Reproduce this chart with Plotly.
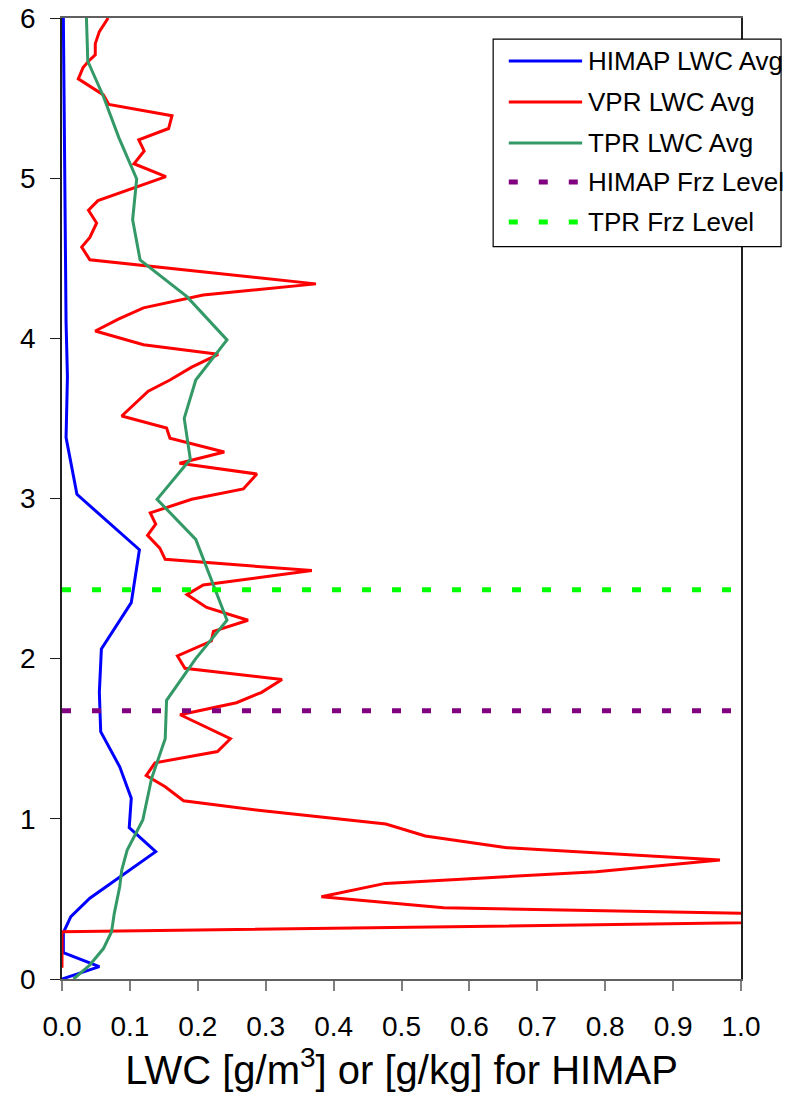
import plotly.graph_objects as go

# ---------------- data ----------------
himap_x = [0.002, 0.003, 0.004, 0.005, 0.006, 0.008, 0.006, 0.022, 0.114, 0.102,
           0.058, 0.055, 0.057, 0.085, 0.102, 0.099, 0.138, 0.041, 0.013, 0.002,
           0.002, 0.055, 0.0]
himap_y = [6.0, 5.5, 5.0, 4.5, 4.1, 3.76, 3.38, 3.026, 2.68, 2.35,
           2.06, 1.79, 1.544, 1.325, 1.128, 0.945, 0.795, 0.504, 0.389, 0.29,
           0.164, 0.077, 0.0]

vpr_x = [0.068, 0.055, 0.049, 0.049, 0.039, 0.031, 0.024, 0.061, 0.069, 0.162,
         0.157, 0.113, 0.121, 0.106, 0.153, 0.053, 0.039, 0.051, 0.041, 0.029,
         0.041, 0.374, 0.208, 0.120, 0.083, 0.049, 0.120, 0.230, 0.191, 0.159,
         0.127, 0.088, 0.154, 0.159, 0.239, 0.173, 0.287, 0.267, 0.191, 0.130,
         0.138, 0.126, 0.144, 0.152, 0.368, 0.208, 0.184, 0.213, 0.274, 0.223,
         0.220, 0.170, 0.181, 0.324, 0.294, 0.257, 0.174, 0.248, 0.229, 0.137,
         0.124, 0.152, 0.179, 0.296, 0.477, 0.535, 0.655, 0.969, 0.787, 0.476,
         0.382, 0.562, 1.44, 0.0, 0.0]
vpr_y = [6.0, 5.915, 5.84, 5.77, 5.73, 5.69, 5.62, 5.52, 5.46, 5.39,
         5.31, 5.24, 5.17, 5.09, 5.01, 4.86, 4.80, 4.72, 4.63, 4.57,
         4.49, 4.34, 4.27, 4.19, 4.12, 4.046, 3.96, 3.90, 3.82, 3.74,
         3.67, 3.515, 3.44, 3.376, 3.29, 3.22, 3.153, 3.06, 2.995, 2.91,
         2.84, 2.77, 2.69, 2.62, 2.55, 2.46, 2.40, 2.32, 2.24, 2.17,
         2.11, 2.017, 1.94, 1.87, 1.79, 1.725, 1.65, 1.50, 1.42, 1.35,
         1.27, 1.20, 1.113, 1.05, 0.968, 0.893, 0.82, 0.743, 0.67, 0.597,
         0.514, 0.445, 0.375, 0.295, 0.07]

tpr_x = [0.036, 0.038, 0.061, 0.084, 0.110, 0.104, 0.115, 0.184, 0.243, 0.197,
         0.180, 0.189, 0.140, 0.197, 0.243, 0.197, 0.154, 0.152, 0.132, 0.119,
         0.096, 0.088, 0.085, 0.077, 0.073, 0.061, 0.041, 0.017]
tpr_y = [6.0, 5.73, 5.51, 5.25, 4.995, 4.74, 4.49, 4.26, 3.99, 3.74,
         3.50, 3.245, 2.995, 2.745, 2.24, 2.0, 1.74, 1.50, 1.253, 0.993,
         0.805, 0.68, 0.576, 0.41, 0.295, 0.19, 0.087, 0.0]

frz_x = [0.0, 1.0]
himap_frz = 1.675
tpr_frz = 2.43

series_names = ["HIMAP LWC Avg", "VPR LWC Avg", "TPR LWC Avg",
                "HIMAP Frz Level", "TPR Frz Level"]
x_ticks = [0.0, 0.1, 0.2, 0.3, 0.4, 0.5, 0.6, 0.7, 0.8, 0.9, 1.0]
x_tick_labels = ["0.0", "0.1", "0.2", "0.3", "0.4", "0.5", "0.6", "0.7", "0.8", "0.9", "1.0"]
y_ticks = [0, 1, 2, 3, 4, 5, 6]
y_tick_labels = ["0", "1", "2", "3", "4", "5", "6"]

# ---------------- styles ----------------
FONT = "Liberation Sans, Arial, sans-serif"
styles = [
    dict(color="#0000FF", width=3, dash="solid"),
    dict(color="#FF0000", width=3, dash="solid"),
    dict(color="#339966", width=3, dash="solid"),
    dict(color="#800080", width=5, dash="9px,21px"),
    dict(color="#00FF00", width=5, dash="9px,21px"),
]

fig = go.Figure()
fig.add_trace(go.Scatter(x=himap_x, y=himap_y, mode="lines", name=series_names[0],
                         line=styles[0], showlegend=False))
fig.add_trace(go.Scatter(x=vpr_x, y=vpr_y, mode="lines", name=series_names[1],
                         line=styles[1], showlegend=False))
fig.add_trace(go.Scatter(x=tpr_x, y=tpr_y, mode="lines", name=series_names[2],
                         line=styles[2], showlegend=False))
fig.add_trace(go.Scatter(x=frz_x, y=[himap_frz, himap_frz], mode="lines", name=series_names[3],
                         line=styles[3], showlegend=False))
fig.add_trace(go.Scatter(x=frz_x, y=[tpr_frz, tpr_frz], mode="lines", name=series_names[4],
                         line=styles[4], showlegend=False))

# ---------------- custom legend (box, line samples, labels) ----------------
shapes = [dict(type="rect", xref="paper", yref="paper", x0=0.635, x1=1.059, y0=0.762, y1=0.978,
               line=dict(color="#000000", width=1.2), fillcolor="white", layer="above")]
annotations = []
row_y = [0.9553, 0.9126, 0.8699, 0.8293, 0.7877]
for i, name in enumerate(series_names):
    shapes.append(dict(type="line", xref="paper", yref="paper", x0=0.658, x1=0.766,
                       y0=row_y[i], y1=row_y[i], layer="above",
                       line=dict(color=styles[i]["color"],
                                 width=styles[i]["width"] if i < 3 else 5,
                                 dash="solid" if i < 3 else "9px,21px")))
    annotations.append(dict(xref="paper", yref="paper", x=0.772, y=row_y[i], text=name,
                            showarrow=False, xanchor="left", yanchor="middle",
                            font=dict(family=FONT, size=26, color="black")))

# the page body adds an 8 px offset, so the figure is 792 x 1092
fig.update_layout(
    width=792, height=1092,
    margin=dict(l=54, r=59, t=10, b=121, autoexpand=False),
    paper_bgcolor="white", plot_bgcolor="white",
    font=dict(family=FONT, color="black"),
    shapes=shapes, annotations=annotations,
    showlegend=False,
)
fig.update_xaxes(
    range=[0, 1], tickvals=x_ticks, ticktext=x_tick_labels,
    showgrid=False, zeroline=False, automargin=False, ticklabeloverflow="allow",
    showline=True, linecolor="#606060", linewidth=1.5, mirror=True,
    ticks="outside", ticklen=10, tickcolor="#808080", tickwidth=1.5,
    tickfont=dict(family=FONT, size=28, color="black"), ticklabelstandoff=12,
    title=dict(text="LWC [g/m<sup>3</sup>] or [g/kg] for HIMAP",
               font=dict(family=FONT, size=40, color="black"), standoff=4),
)
fig.update_yaxes(
    range=[0, 6], tickvals=y_ticks, ticktext=y_tick_labels,
    showgrid=False, zeroline=False, automargin=False, ticklabeloverflow="allow",
    showline=True, linecolor="#202020", linewidth=1.5, mirror=True,
    ticks="outside", ticklen=10, tickcolor="#202020", tickwidth=1.2,
    tickfont=dict(family=FONT, size=28, color="black"), ticklabelstandoff=9,
)

fig.write_html("out.html")
